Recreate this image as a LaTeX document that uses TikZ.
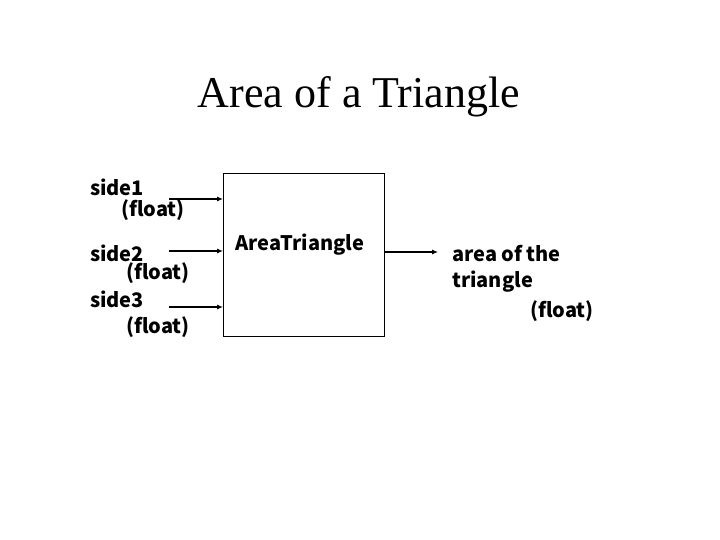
\documentclass[tikz,border=0pt]{standalone}
\usepackage{fontspec}
\usetikzlibrary{arrows.meta}
\setmainfont{Liberation Serif}
\newfontfamily\gothic{Noto Sans CJK JP}
\begin{document}
\begin{tikzpicture}[x=1pt,y=-1pt,
  lbl/.style={anchor=base west,inner sep=0pt,font=\gothic\bfseries\fontsize{20}{24}\selectfont},
  arr/.style={draw,line width=1.1pt,-{Latex[length=6pt,width=5pt]}}]
\useasboundingbox (0,0) rectangle (720,540);
\node[anchor=base,inner sep=0pt,font=\fontsize{44}{50}\selectfont] (title) at (359,108) {Area of a Triangle};
\node[draw,line width=0.8pt,minimum width=161pt,minimum height=163pt,anchor=north west,inner sep=0pt] (box) at (223,173) {};
\node[lbl] (name) at (235,250) {AreaTriangle};
\node[lbl] (s1) at (90,196) {side1};
\node[lbl] (f1) at (121,217) {(float)};
\node[lbl] (s2) at (90,261) {side2};
\node[lbl] (f2) at (126,279) {(float)};
\node[lbl] (s3) at (90,307) {side3};
\node[lbl] (f3) at (126,333) {(float)};
\node[lbl] (o1) at (452,261) {area of the};
\node[lbl] (o2) at (452,287) {triangle};
\node[lbl] (o3) at (530,317) {(float)};
\coordinate (a1) at (169,199);
\coordinate (a2) at (169,251);
\coordinate (a3) at (169,307);
\coordinate (b1) at (223,199);
\coordinate (b2) at (223,251);
\coordinate (b3) at (223,307);
\coordinate (c1) at (384,252);
\coordinate (c2) at (438,252);
\draw[arr] (a1) -- (b1);
\draw[arr] (a2) -- (b2);
\draw[arr] (a3) -- (b3);
\draw[arr] (c1) -- (c2);
\end{tikzpicture}
\end{document}
